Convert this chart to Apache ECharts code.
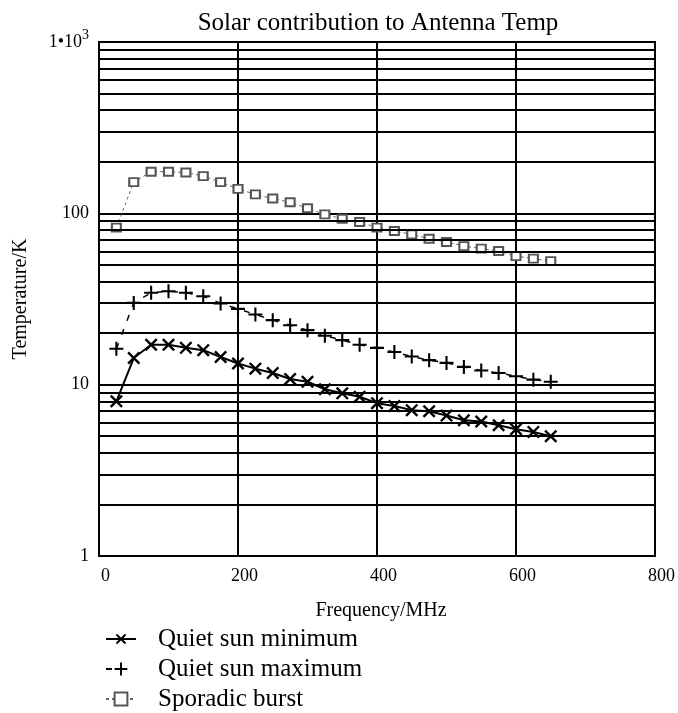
<!DOCTYPE html>
<html>
<head>
<meta charset="utf-8">
<script src="https://cdn.jsdelivr.net/npm/echarts@6/dist/echarts.min.js"></script>
<style>
  html, body { margin: 0; padding: 0; background: #fff; }
  #chart { width: 678px; height: 713px; }
</style>
</head>
<body>
<div id="chart"></div>
<script>
  // frequency in MHz
  var freqs = [25, 50, 75, 100, 125, 150, 175, 200, 225, 250, 275, 300, 325,
    350, 375, 400, 425, 450, 475, 500, 525, 550, 575, 600, 625, 650];
  // temperatures in K
  var quietMin = [8.0, 14.3, 17.1, 17.1, 16.4, 15.9, 14.5, 13.3, 12.4, 11.7, 10.8, 10.4, 9.4,
    8.9, 8.5, 7.8, 7.5, 7.1, 7.0, 6.6, 6.2, 6.1, 5.8, 5.5, 5.3, 5.0];
  var quietMax = [16.2, 30, 34.4, 35.1, 34.4, 32.8, 29.8, 27.7, 25.7, 23.8, 22.2, 20.8, 19.3,
    18.2, 17.1, 16.4, 15.5, 14.6, 13.9, 13.4, 12.7, 12.1, 11.7, 11.2, 10.7, 10.4];
  var sporadic = [82.5, 152, 175, 175, 173, 165, 152, 139, 129, 122, 116, 107, 98.6,
    93, 89, 82.5, 78.8, 75.4, 71.1, 68, 64.4, 62.2, 60.3, 56.3, 54.4, 52.6];
  var minorGrid = [2, 3, 4, 5, 6, 7, 8, 9, 20, 30, 40, 50, 60, 70, 80, 90,
    200, 300, 400, 500, 600, 700, 800, 900];

  var serif = "'Liberation Serif', 'DejaVu Serif', serif";
  var plusPath = 'path://M0,5.1H12V6.9H0Z M5.1,0H6.9V12H5.1Z';

  function pairs(vals) {
    return freqs.map(function (f, i) { return [f, vals[i]]; });
  }

  var myChart = echarts.init(document.getElementById('chart'));
  myChart.setOption({
    animation: false,
    title: {
      text: 'Solar contribution to Antenna Temp',
      left: 373,
      textAlign: 'center',
      top: 6,
      textStyle: { fontFamily: serif, fontSize: 25, fontWeight: 'normal', color: '#000' }
    },
    legend: {
      orient: 'vertical',
      left: 100,
      top: 621,
      height: 110,
      itemGap: 4,
      itemWidth: 30,
      itemHeight: 16,
      textStyle: {
        fontFamily: serif, fontSize: 25, lineHeight: 26, color: '#000',
        padding: [0, 0, 0, 17]
      },
      data: ['Quiet sun minimum', 'Quiet sun maximum', 'Sporadic burst']
    },
    grid: {
      left: 99,
      right: 21,
      top: 42,
      bottom: 157,
      show: true,
      borderColor: '#000',
      borderWidth: 2
    },
    xAxis: {
      type: 'value',
      min: 0,
      max: 800,
      interval: 200,
      name: 'Frequency/MHz',
      nameLocation: 'middle',
      nameGap: 45,
      nameTextStyle: { fontFamily: serif, fontSize: 20, color: '#000', padding: [0, 0, 0, 8] },
      axisLine: { lineStyle: { color: '#000', width: 2 } },
      axisTick: { show: false },
      axisLabel: {
        fontFamily: serif, fontSize: 18, color: '#000', margin: 11,
        padding: [0, 0, 0, 13]
      },
      splitLine: { show: true, lineStyle: { color: '#000', width: 2 } }
    },
    yAxis: {
      type: 'log',
      logBase: 10,
      min: 1,
      max: 1000,
      name: 'Temperature/K',
      nameLocation: 'middle',
      nameGap: 68,
      nameTextStyle: { fontFamily: serif, fontSize: 20, color: '#000' },
      axisLine: { lineStyle: { color: '#000', width: 2 } },
      axisTick: { show: false },
      axisLabel: {
        margin: 10,
        color: '#000',
        formatter: function (v) {
          v = Math.round(v);
          if (v === 1000) return '{a|1•10}{s|3}';
          return '{a|' + v + '}';
        },
        rich: {
          a: { fontFamily: serif, fontSize: 18, color: '#000' },
          s: { fontFamily: serif, fontSize: 14, color: '#000', padding: [0, 0, 14, 0] }
        }
      },
      splitLine: { show: true, lineStyle: { color: '#000', width: 2 } }
    },
    series: [
      {
        name: 'Quiet sun minimum',
        type: 'line',
        data: pairs(quietMin),
        symbol: plusPath,
        symbolRotate: 45,
        symbolSize: 16,
        color: '#000',
        lineStyle: { color: '#000', width: 2 },
        itemStyle: { color: '#000' },
        z: 4,
        markLine: {
          silent: true,
          symbol: 'none',
          label: { show: false },
          animation: false,
          lineStyle: { color: '#000', width: 2, type: 'solid' },
          data: minorGrid.map(function (v) { return { yAxis: v }; })
        }
      },
      {
        name: 'Quiet sun maximum',
        type: 'line',
        data: pairs(quietMax),
        symbol: plusPath,
        symbolSize: 14,
        color: '#000',
        lineStyle: { color: '#000', width: 1.5, type: [6, 9] },
        itemStyle: { color: '#000' },
        z: 4
      },
      {
        name: 'Sporadic burst',
        type: 'line',
        data: pairs(sporadic),
        symbol: 'emptyRect',
        symbolSize: [9, 8],
        color: '#555',
        lineStyle: { color: '#666', width: 1, type: [3, 3] },
        itemStyle: { color: '#555', borderWidth: 1.2 },
        z: 4
      }
    ]
  });
</script>
</body>
</html>
